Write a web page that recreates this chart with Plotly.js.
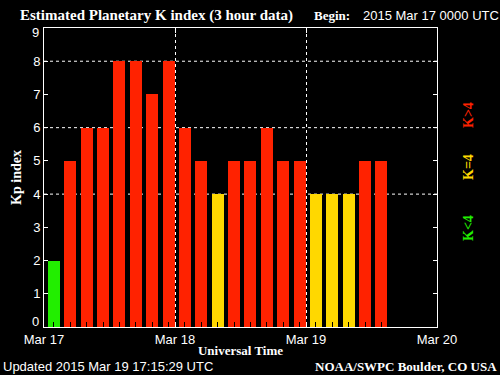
<!DOCTYPE html>
<html>
<head>
<meta charset="utf-8">
<script src="https://cdn.plot.ly/plotly-3.0.1.min.js"></script>
<style>html,body{margin:0;padding:0;background:#000;}#chart{width:500px;height:375px;}</style>
</head>
<body>
<div id="chart"></div>
<script>
// ---- data ----
var slotTimes = [
  "2015-03-17 00:00","2015-03-17 03:00","2015-03-17 06:00","2015-03-17 09:00",
  "2015-03-17 12:00","2015-03-17 15:00","2015-03-17 18:00","2015-03-17 21:00",
  "2015-03-18 00:00","2015-03-18 03:00","2015-03-18 06:00","2015-03-18 09:00",
  "2015-03-18 12:00","2015-03-18 15:00","2015-03-18 18:00","2015-03-18 21:00",
  "2015-03-19 00:00","2015-03-19 03:00","2015-03-19 06:00","2015-03-19 09:00",
  "2015-03-19 12:00"
];
var kpValues = [2,5,6,6,8,8,7,8, 6,5,4,5,5,6,5,5, 4,4,4,5,5];
var xRange = ["2015-03-17 00:00","2015-03-20 00:00"];
var yTickVals = [0,1,2,3,4,5,6,7,8,9];
var gridLevels = [4,6,8];
var titleText = "Estimated Planetary K index (3 hour data)";
var beginLabel = "Begin:";
var beginText = "2015 Mar 17 0000 UTC";
var updatedText = "Updated 2015 Mar 19 17:15:29 UTC";
var sourceText = "NOAA/SWPC Boulder, CO USA";
var legendLabels = ["K>4","K=4","K<4"];

// ---- styles ----
var RED = "#ff2200", YELLOW = "#ffd800", GREEN = "#22ee00";
var HOUR = 3600000;
var thin = {family: "Liberation Sans, DejaVu Sans, sans-serif", size: 13, color: "#ffffff"};
var boldSerif = function(sz, col){ return {family: "Liberation Serif, DejaVu Serif, serif", size: sz, color: col || "#ffffff", weight: "bold"}; };

var barColors = kpValues.map(function(v){ return v < 4 ? GREEN : (v === 4 ? YELLOW : RED); });

var trace = {
  type: "bar",
  x: slotTimes,
  y: kpValues,
  width: 2.2 * HOUR,
  offset: 0.72 * HOUR,
  marker: {color: barColors, line: {width: 0}},
  hoverinfo: "x+y"
};

function px2x(px){ return (px - 44) / 393; }
function py2y(py){ return (327 - py) / 299; }

var shapes = gridLevels.map(function(g){
  return {type: "line", xref: "paper", yref: "y", x0: 0, x1: 1, y0: g, y1: g,
          layer: "below", line: {color: "#ffffff", width: 1, dash: "dot"}};
});

// end tick labels (0 and 9) are nudged inward in the reference
var endLabelIdx = [0, yTickVals.length - 1];
var tickText = yTickVals.map(function(v, i){ return endLabelIdx.indexOf(i) >= 0 ? "" : String(v); });

var legendCols = [RED, YELLOW, GREEN];
var legendY = [115, 167, 228];
var annotations = [
  {text: beginLabel, xref: "paper", yref: "paper", x: px2x(312), y: py2y(15), xanchor: "left", yanchor: "middle", showarrow: false, font: boldSerif(13)},
  {text: beginText, xref: "paper", yref: "paper", x: px2x(361), y: py2y(15), xanchor: "left", yanchor: "middle", showarrow: false, font: thin},
  {text: updatedText, xref: "paper", yref: "paper", x: px2x(1), y: py2y(366), xanchor: "left", yanchor: "middle", showarrow: false, font: thin},
  {text: sourceText, xref: "paper", yref: "paper", x: px2x(499), y: py2y(366), xanchor: "right", yanchor: "middle", showarrow: false, font: boldSerif(13)},
  {text: String(yTickVals[0]), xref: "paper", yref: "y", x: px2x(41), y: yTickVals[0], yshift: 6, xanchor: "right", yanchor: "middle", showarrow: false, font: thin},
  {text: String(yTickVals[yTickVals.length - 1]), xref: "paper", yref: "y", x: px2x(41), y: yTickVals[yTickVals.length - 1], yshift: -4, xanchor: "right", yanchor: "middle", showarrow: false, font: thin}
];
legendLabels.forEach(function(t, i){
  annotations.push({text: t, xref: "paper", yref: "paper", x: px2x(468), y: py2y(legendY[i]),
    xanchor: "center", yanchor: "middle", textangle: -90, showarrow: false, font: boldSerif(14, legendCols[i])});
});

var layout = {
  width: 500, height: 375,
  paper_bgcolor: "#000000", plot_bgcolor: "#000000",
  margin: {l: 44, r: 63, t: 28, b: 48, pad: 0},
  showlegend: false,
  bargap: 0,
  title: {text: titleText, x: 20/500, xanchor: "left", xref: "container", y: 1 - 15/375, yanchor: "middle", yref: "container", font: boldSerif(15)},
  xaxis: {
    type: "date", range: xRange, autorange: false,
    dtick: 86400000, tick0: xRange[0], tickformat: "%b %d",
    ticks: "inside", ticklen: 5, tickcolor: "#ffffff", tickwidth: 1,
    showgrid: true, gridcolor: "#ffffff", griddash: "dot", gridwidth: 1,
    showline: true, linecolor: "#ffffff", linewidth: 1, mirror: "ticks",
    zeroline: false, tickfont: thin,
    minor: {dtick: 3 * HOUR, tick0: "2015-03-17 01:49", ticks: "inside", ticklen: 5, tickcolor: "#000000", showgrid: false},
    title: {text: "Universal Time", font: boldSerif(13), standoff: 0},
    fixedrange: true
  },
  yaxis: {
    range: [0, 9], autorange: false,
    tickvals: yTickVals, ticktext: tickText,
    ticks: "inside", ticklen: 4, tickcolor: "#ffffff", tickwidth: 1,
    showgrid: false, zeroline: false,
    showline: true, linecolor: "#ffffff", linewidth: 1, mirror: "ticks",
    tickfont: thin,
    title: {text: "Kp index", font: boldSerif(14), standoff: 8},
    fixedrange: true
  },
  shapes: shapes,
  annotations: annotations
};

Plotly.newPlot("chart", [trace], layout, {displayModeBar: false, staticPlot: true});
</script>
</body>
</html>
